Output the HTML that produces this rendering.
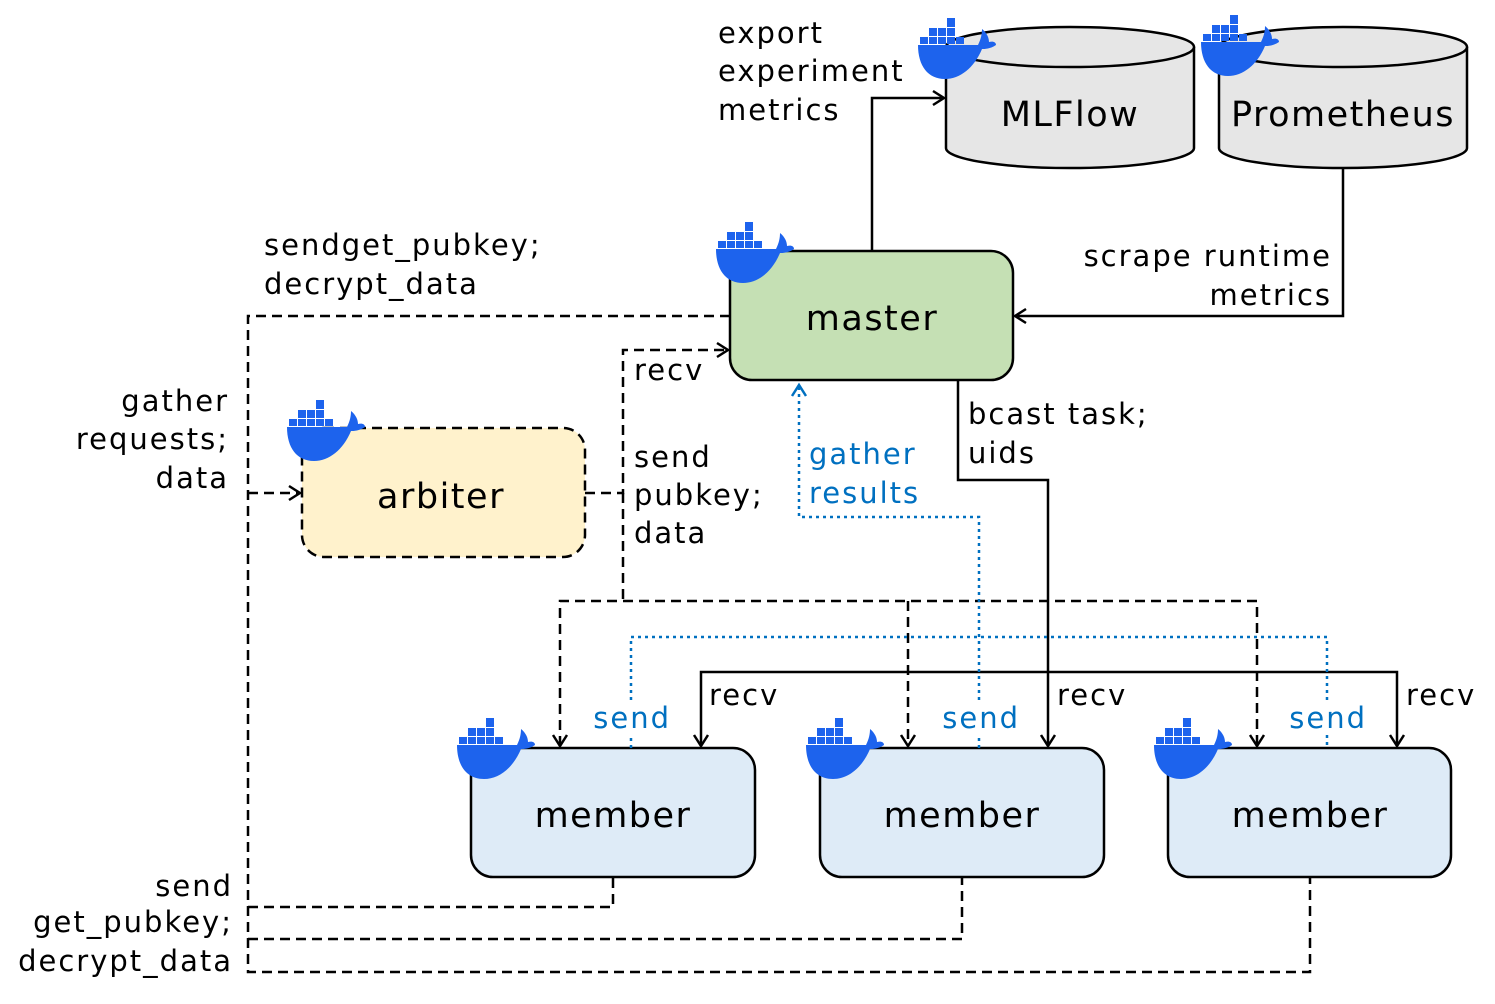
<!DOCTYPE html>
<html><head><meta charset="utf-8"><style>
body{margin:0;background:#fff}
svg text{font-family:"DejaVu Sans","Liberation Sans",sans-serif;fill:#000}
.t{font-size:29px;letter-spacing:2px}
.big{font-size:35px;letter-spacing:1.5px}
.bl{fill:#0070c0 !important}
</style></head><body>
<svg width="1495" height="999" viewBox="0 0 1495 999" xmlns="http://www.w3.org/2000/svg">
<defs>
<marker id="a" markerWidth="20" markerHeight="20" refX="14" refY="9" orient="auto-start-reverse" markerUnits="userSpaceOnUse">
<path d="M3,2 L14,9 L3,16" fill="none" stroke="#000" stroke-width="2.5"/></marker>
<marker id="b" markerWidth="20" markerHeight="20" refX="14" refY="9" orient="auto" markerUnits="userSpaceOnUse">
<path d="M3,2 L14,9 L3,16" fill="none" stroke="#0070c0" stroke-width="2.5"/></marker>
<g id="dk">
<path d="M0,27 L60,27 C63,21 64,16 64,11 C69,15 71,20 71,24 C75,23 78,24 78,27 C72,31 67,31 64,31 C56,50 42,61 27,61 C10,61 0,48 0,27 Z" fill="#1d63ed"/>
<g fill="#1d63ed">
<rect x="2" y="19" width="8" height="7"/><rect x="11" y="19" width="8" height="7"/><rect x="20" y="19" width="8" height="7"/><rect x="29" y="19" width="8" height="7"/><rect x="38" y="19" width="8" height="7"/>
<rect x="11" y="10" width="8" height="8"/><rect x="20" y="10" width="8" height="8"/><rect x="29" y="10" width="8" height="8"/>
<rect x="29" y="0" width="8" height="9"/></g>
</g>
</defs>
<g fill="none" stroke="#000" stroke-width="2.5">
<path d="M946,47 L946,148 A124,20 0 0 0 1194,148 L1194,47" fill="#e6e6e6"/>
<ellipse cx="1070" cy="47" rx="124" ry="20" fill="#e6e6e6"/>
<path d="M1219,47 L1219,148 A124,20 0 0 0 1467,148 L1467,47" fill="#e6e6e6"/>
<ellipse cx="1343" cy="47" rx="124" ry="20" fill="#e6e6e6"/>
<rect x="730" y="251" width="283" height="129" rx="22" fill="#c5e0b4"/>
<rect x="302" y="428" width="283" height="129" rx="22" fill="#fff2cc" stroke-dasharray="10,6"/>
<rect x="471" y="748" width="284" height="129" rx="22" fill="#deebf7"/>
<rect x="820" y="748" width="284" height="129" rx="22" fill="#deebf7"/>
<rect x="1168" y="748" width="283" height="129" rx="22" fill="#deebf7"/>
<path d="M872,251 L872,98 L944,98" marker-end="url(#a)"/>
<path d="M1343,168 L1343,316 L1015,316" marker-end="url(#a)"/>
<path d="M958,380 L958,480 L1048,480 L1048,746" marker-end="url(#a)"/>
<path d="M701,746 L701,672 L1397,672 L1397,746" marker-start="url(#a)" marker-end="url(#a)"/>
<g stroke-dasharray="10,6">
<path d="M730,316 L248,316 L248,972 L1310,972 L1310,877"/>
<path d="M248,907 L613,907 L613,877"/>
<path d="M248,939 L962,939 L962,877"/>
<path d="M248,493 L300,493" marker-end="url(#a)"/>
<path d="M585,493 L623,493 L623,350 L728,350" marker-end="url(#a)"/>
<path d="M623,493 L623,601"/>
<path d="M560,746 L560,601 L1257,601 L1257,746" marker-start="url(#a)" marker-end="url(#a)"/>
<path d="M908,601 L908,746" marker-end="url(#a)"/>
</g>
<g stroke="#0070c0" stroke-dasharray="3,4" stroke-width="2.5">
<path d="M631,748 L631,735 M631,700 L631,637 L1327,637 L1327,700 M1327,735 L1327,748"/>
<path d="M979,748 L979,735 M979,700 L979,517 L799,517 L799,385" marker-end="url(#b)"/>
</g>
</g>
<use href="#dk" x="918" y="18"/>
<use href="#dk" x="1201" y="15"/>
<use href="#dk" x="716" y="222"/>
<use href="#dk" x="287" y="400"/>
<use href="#dk" x="457" y="718"/>
<use href="#dk" x="806" y="718"/>
<use href="#dk" x="1154" y="718"/>
<g text-anchor="middle">
<text class="big" x="1070" y="126">MLFlow</text>
<text class="big" x="1343" y="126">Prometheus</text>
<text class="big" x="872" y="330">master</text>
<text class="big" x="441" y="508">arbiter</text>
<text class="big" x="613" y="827">member</text>
<text class="big" x="962" y="827">member</text>
<text class="big" x="1310" y="827">member</text>
</g>
<text class="t" x="718" y="43">export</text>
<text class="t" x="718" y="81">experiment</text>
<text class="t" x="718" y="120">metrics</text>
<text class="t" x="1332" y="266" text-anchor="end">scrape runtime</text>
<text class="t" x="1332" y="305" text-anchor="end">metrics</text>
<text class="t" x="264" y="255">sendget_pubkey;</text>
<text class="t" x="264" y="294">decrypt_data</text>
<text class="t" x="229" y="411" text-anchor="end">gather</text>
<text class="t" x="229" y="449" text-anchor="end">requests;</text>
<text class="t" x="229" y="488" text-anchor="end">data</text>
<text class="t" x="634" y="380">recv</text>
<text class="t" x="634" y="467">send</text>
<text class="t" x="634" y="505">pubkey;</text>
<text class="t" x="634" y="543">data</text>
<text class="t" x="968" y="424">bcast task;</text>
<text class="t" x="968" y="463">uids</text>
<text class="t bl" x="809" y="464">gather</text>
<text class="t bl" x="809" y="503">results</text>
<text class="t bl" x="671" y="728" text-anchor="end">send</text>
<text class="t bl" x="1020" y="728" text-anchor="end">send</text>
<text class="t bl" x="1367" y="728" text-anchor="end">send</text>
<text class="t" x="709" y="705">recv</text>
<text class="t" x="1057" y="705">recv</text>
<text class="t" x="1406" y="705">recv</text>
<text class="t" x="233" y="896" text-anchor="end">send</text>
<text class="t" x="233" y="932" text-anchor="end">get_pubkey;</text>
<text class="t" x="233" y="971" text-anchor="end">decrypt_data</text>
</svg>
</body></html>
